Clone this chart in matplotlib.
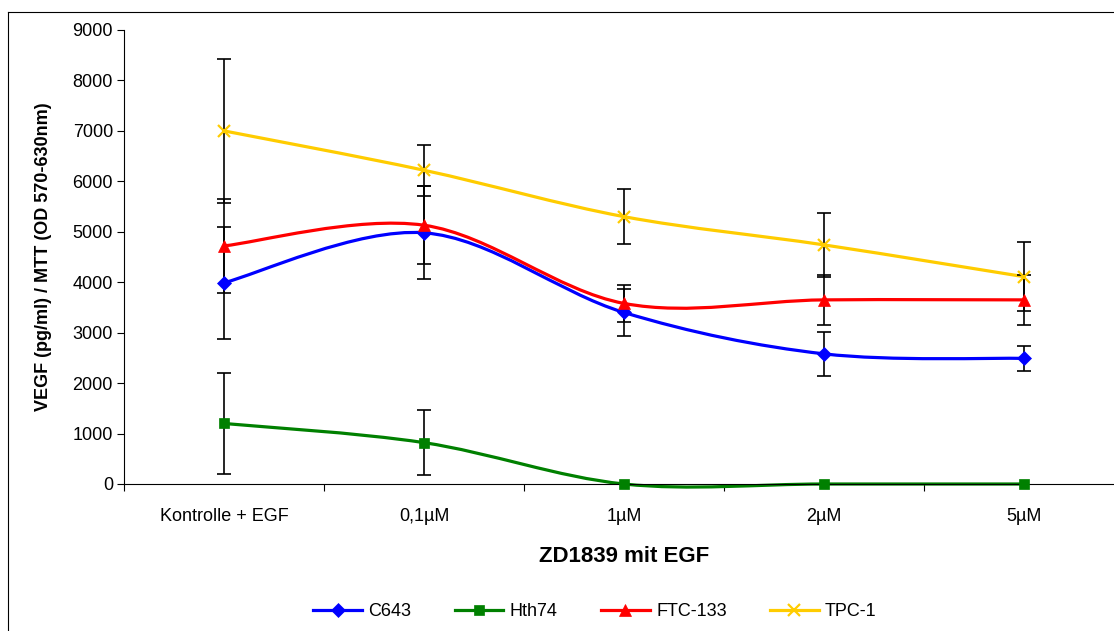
import numpy as np
import matplotlib
matplotlib.use("Agg")
import matplotlib.pyplot as plt
from matplotlib.path import Path
from matplotlib.patches import PathPatch
from matplotlib.lines import Line2D

plt.rcParams["font.family"] = ["Liberation Sans", "DejaVu Sans"]

# Daten
categories = ["Kontrolle + EGF", "0,1µM", "1µM", "2µM", "5µM"]
series_names = ["C643", "Hth74", "FTC-133", "TPC-1"]
c643 = [3990, 4980, 3400, 2580, 2490]
c643_err = [1110, 920, 470, 430, 245]
hth74 = [1200, 820, 0, 0, 0]
hth74_err = [1010, 640, 0, 0, 0]
ftc133 = [4720, 5130, 3580, 3650, 3650]
ftc133_err = [930, 770, 370, 500, 490]
tpc1 = [7000, 6220, 5300, 4740, 4110]
tpc1_err = [1430, 510, 540, 630, 680]

COLORS = ["#0000FF", "#008000", "#FF0000", "#FFCC00"]
MARKERS = [("D", 7), ("s", 7.5), ("^", 8.5), ("x", 9)]


def smooth_path(x, y):
    """Excel-artige Glättung: Bezier mit Catmull-Rom Kontrollpunkten."""
    pts = np.column_stack([x, y]).astype(float)
    ext = np.vstack([pts[0], pts, pts[-1]])
    verts, codes = [pts[0]], [Path.MOVETO]
    for i in range(len(pts) - 1):
        p0, p1, p2, p3 = ext[i], ext[i + 1], ext[i + 2], ext[i + 3]
        verts += [p1 + (p2 - p0) / 6, p2 - (p3 - p1) / 6, p2]
        codes += [Path.CURVE4] * 3
    return Path(verts, codes)


W, H = 1114, 631
fig = plt.figure(figsize=(W / 100, H / 100), dpi=100)
# Achse reicht bis zum rechten Bildrand (Original ist dort abgeschnitten)
ax = fig.add_axes([124 / W, (H - 484) / H, (W - 124) / W, 454 / H])

x = np.arange(1, len(categories) + 1)
data = [(c643, c643_err), (hth74, hth74_err), (ftc133, ftc133_err), (tpc1, tpc1_err)]

handles = []
for (vals, err), name, col, (mk, ms) in zip(data, series_names, COLORS, MARKERS):
    ax.add_patch(PathPatch(smooth_path(x, vals), fill=False, edgecolor=col, lw=2.3,
                           capstyle="round", joinstyle="round", zorder=2, clip_on=False))
    e = np.array(err, dtype=float)
    m = e > 0
    ax.errorbar(x[m], np.array(vals)[m], yerr=e[m], fmt="none", ecolor="black",
                elinewidth=1.2, capsize=4.8, capthick=1.2, zorder=3)
    ax.plot(x, vals, ls="none", marker=mk, ms=ms, color=col, mew=1.6 if mk == "x" else 0.5,
            zorder=4, clip_on=False)
    handles.append(Line2D([], [], color=col, lw=2.3, marker=mk, ms=ms,
                          mew=1.6 if mk == "x" else 0.5))

ax.set_xlim(0.5, 0.5 + (W - 124) / 200)
ax.set_ylim(0, 9000)
ax.set_yticks(np.arange(0, 9001, 1000))
ax.set_xticks(np.arange(0.5, 5.5, 1))
ax.set_xticklabels([])
ax.set_xticks(x, minor=True)
ax.set_xticklabels(categories, minor=True)
ax.tick_params(axis="x", which="major", direction="out", length=5, width=0.8)
ax.tick_params(axis="x", which="minor", length=0, pad=17, labelsize=13)
ax.tick_params(axis="y", direction="out", length=5, width=0.8, pad=3, labelsize=13)
for s in ["top", "right"]:
    ax.spines[s].set_visible(False)
for s in ["left", "bottom"]:
    ax.spines[s].set_linewidth(0.8)

ax.set_xlabel("ZD1839 mit EGF", fontsize=16, fontweight="bold")
ax.xaxis.set_label_coords(500 / (W - 124), (484 - 556) / 454)
ax.xaxis.label.set_verticalalignment("center")
ax.set_ylabel("VEGF (pg/ml) / MTT (OD 570-630nm)", fontsize=13, fontweight="bold")
ax.yaxis.set_label_coords((44 - 124) / (W - 124), 0.5)
ax.yaxis.label.set_verticalalignment("center")

fig.legend(handles, series_names, loc="center", bbox_to_anchor=(595 / W, 1 - 612 / H),
           ncol=4, frameon=False, fontsize=13, handlelength=2.7, handletextpad=0.35,
           columnspacing=2.4)

# Rahmen des Diagrammbereichs (rechts/unten abgeschnitten)
fig.add_artist(Line2D([8 / W, 8 / W], [0, 1 - 12 / H], transform=fig.transFigure,
                      color="black", lw=0.8))
fig.add_artist(Line2D([8 / W, 1], [1 - 12 / H, 1 - 12 / H], transform=fig.transFigure,
                      color="black", lw=0.8))

fig.savefig("out.png", dpi=100)
